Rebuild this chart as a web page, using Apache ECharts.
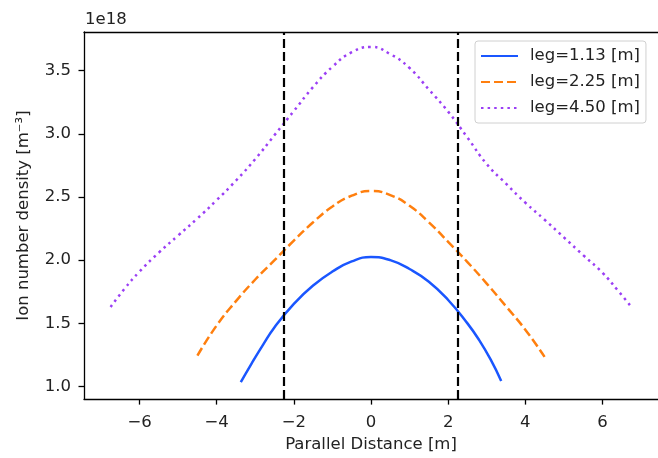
<!DOCTYPE html>
<html>
<head>
<meta charset="utf-8">
<script src="https://cdn.jsdelivr.net/npm/echarts@6/dist/echarts.min.js"></script>
<style>
html,body{margin:0;padding:0;background:#fff;}
#c{width:658px;height:458px;}
</style>
</head>
<body>
<div id="c"></div>
<script>
// ---- data (y values in units of 1e18 m^-3) ----
const xBlue = [-3.375,-3.1,-2.8,-2.5,-2.0,-1.5,-1.0,-0.5,0,0.5,1.0,1.5,2.0,2.5,2.8,3.1,3.375];
const yBlue = [1.035,1.18,1.33,1.47,1.655,1.80,1.91,1.99,2.025,2.0,1.93,1.83,1.685,1.50,1.37,1.215,1.045];

const xOrange = [-4.5,-4,-3.5,-3,-2.5,-2,-1.5,-1,-0.5,0,0.5,1,1.5,2,2.5,3,3.5,4,4.5];
const yOrange = [1.245,1.484,1.676,1.847,2.0,2.155,2.30,2.425,2.51,2.547,2.515,2.43,2.30,2.145,1.985,1.815,1.635,1.45,1.235];

const xPurple = [-6.75,-6.4,-6,-5.5,-5,-4.5,-4,-3.5,-3,-2.5,-2,-1.5,-1,-0.5,0,0.5,1,1.5,2,2.5,3,3.5,4,4.5,5,5.5,6,6.4,6.75];
const yPurple = [1.63,1.77,1.91,2.06,2.195,2.33,2.475,2.63,2.80,2.99,3.18,3.37,3.53,3.645,3.687,3.63,3.52,3.35,3.175,2.97,2.76,2.605,2.455,2.32,2.18,2.04,1.90,1.76,1.63];

const seriesNames = ['leg=1.13 [m]','leg=2.25 [m]','leg=4.50 [m]'];
const vLines = [-2.25, 2.25];
const xTicks = [-6,-4,-2,0,2,4,6];
const yTicks = [1.0,1.5,2.0,2.5,3.0,3.5];

const zip = (xs, ys) => xs.map((x, i) => [x, ys[i]]);
const FONT = 'DejaVu Sans';
const FS = 16.5;
const fmt = v => String(v).replace('-', '\u2212');

const chart = echarts.init(document.getElementById('c'), null, {renderer: 'canvas'});
chart.setOption({
  animation: false,
  backgroundColor: '#ffffff',
  textStyle: {fontFamily: FONT},
  grid: {left: 84, top: 32, width: 576, height: 373, containLabel: false},
  graphic: [{
    type: 'text', left: 85, top: 11,
    style: {text: '1e18', font: FS + 'px "DejaVu Sans"', fill: '#222'}
  }],
  legend: {
    orient: 'vertical',
    left: 475, top: 41,
    padding: [5, 6, 5, 5],
    itemGap: 6,
    itemWidth: 37,
    itemHeight: 20,
    itemGap: 6,
    backgroundColor: 'rgba(255,255,255,0.8)',
    borderColor: '#d0d0d0',
    borderWidth: 1,
    borderRadius: 3,
    itemStyle: {opacity: 0},
    textStyle: {fontFamily: FONT, fontSize: FS, color: '#222', padding: [0, 0, 0, 7], lineHeight: 20},
    data: seriesNames
  },
  xAxis: [{
    type: 'value', min: -7.44, max: 7.44, splitNumber: 7,
    position: 'bottom',
    name: 'Parallel Distance [m]', nameLocation: 'middle', nameGap: 36,
    nameTextStyle: {fontFamily: FONT, fontSize: FS, color: '#222'},
    axisLine: {show: true, onZero: false, lineStyle: {color: '#000', width: 1.3}},
    axisTick: {show: true, length: 5.5, customValues: xTicks, lineStyle: {color: '#000', width: 1.3}},
    axisLabel: {customValues: xTicks, margin: 15, fontFamily: FONT, fontSize: FS, color: '#222', formatter: v => fmt(v)},
    splitLine: {show: false}
  }, {
    type: 'value', min: -7.44, max: 7.44, position: 'top',
    axisLine: {show: true, onZero: false, lineStyle: {color: '#000', width: 1.3}},
    axisTick: {show: false}, axisLabel: {show: false}, splitLine: {show: false}
  }],
  yAxis: {
    type: 'value', min: 0.901, max: 3.805,
    name: 'Ion number density [m\u207B\u00B3]', nameLocation: 'middle', nameGap: 52,
    nameTextStyle: {fontFamily: FONT, fontSize: FS, color: '#222'},
    axisLine: {show: true, onZero: false, lineStyle: {color: '#000', width: 1.3}},
    axisTick: {show: true, length: 5.5, customValues: yTicks, lineStyle: {color: '#000', width: 1.3}},
    axisLabel: {customValues: yTicks, margin: 13, fontFamily: FONT, fontSize: FS, color: '#222', formatter: v => v.toFixed(1)},
    splitLine: {show: false}
  },
  series: [{
    name: seriesNames[0], type: 'line', data: zip(xBlue, yBlue), smooth: 0.5,
    symbol: 'none', lineStyle: {color: '#1a56ff', width: 2.5, type: 'solid'},
    itemStyle: {color: '#1a56ff'}
  }, {
    name: seriesNames[1], type: 'line', data: zip(xOrange, yOrange), smooth: 0.5,
    symbol: 'none', lineStyle: {color: '#ff7f0e', width: 2.5, type: [9, 4]},
    itemStyle: {color: '#ff7f0e'}
  }, {
    name: seriesNames[2], type: 'line', data: zip(xPurple, yPurple), smooth: 0.5,
    symbol: 'none', lineStyle: {color: '#9b3ff5', width: 2.5, type: [2.5, 4.1]},
    itemStyle: {color: '#9b3ff5'}
  }, {
    name: 'vlines', type: 'line', data: [], silent: true,
    markLine: {
      silent: true, symbol: 'none', label: {show: false},
      lineStyle: {color: '#000', width: 2.2, type: [9, 4]},
      data: vLines.map(v => ({xAxis: v}))
    }
  }]
});
</script>
</body>
</html>
